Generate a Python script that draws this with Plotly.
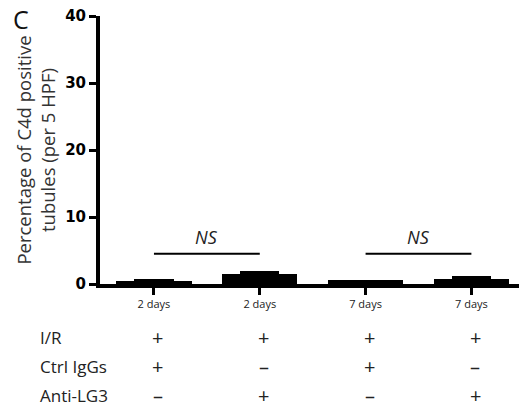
import plotly.graph_objects as go

# ---- data ----
positions = [1, 2, 3, 4]
day_labels = ["2 days", "2 days", "7 days", "7 days"]
outer_values = [0.5, 1.5, 0.6, 0.75]
inner_values = [0.75, 1.95, 0.6, 1.2]
y_ticks = [0, 10, 20, 30, 40]
row_names = ["I/R", "Ctrl IgGs", "Anti-LG3"]
row_signs = [
    ["+", "+", "+", "+"],
    ["+", "–", "+", "–"],
    ["–", "+", "–", "+"],
]
ns_pairs = [(1, 2), (3, 4)]
ns_level = 4.5

fig = go.Figure()
fig.add_trace(go.Bar(x=positions, y=outer_values, width=0.71,
                     marker=dict(color="black", line=dict(width=0)), showlegend=False))
fig.add_trace(go.Bar(x=positions, y=inner_values, width=0.37,
                     marker=dict(color="black", line=dict(width=0)), showlegend=False))

for a, b in ns_pairs:
    fig.add_shape(type="line", xref="x", yref="y", x0=positions[a - 1], x1=positions[b - 1],
                  y0=ns_level, y1=ns_level, line=dict(color="black", width=2))
    fig.add_annotation(x=(positions[a - 1] + positions[b - 1]) / 2, y=ns_level, xref="x", yref="y",
                       text="<i>NS</i>", showarrow=False, yanchor="bottom", yshift=3,
                       font=dict(family="Open Sans", size=18, color="#222"))

row_y = [337, 366, 396]
for r, name in enumerate(row_names):
    yp = (284 - row_y[r]) / 268.0
    fig.add_annotation(x=-62 / 419.0, xref="paper", y=yp, yref="paper", text=name, showarrow=False,
                       xanchor="left", yanchor="middle",
                       font=dict(family="Open Sans", size=17, color="#222"))
    for c, s in enumerate(row_signs[r]):
        fig.add_annotation(x=positions[c], xref="x", y=yp, yref="paper",
                           text=s, showarrow=False, xanchor="center", yanchor="middle",
                           xshift=4, font=dict(family="Open Sans", size=20, color="#222"))

fig.add_annotation(x=-79 / 419.0, xref="paper", y=1 + 16 / 268.0, yref="paper", text="C",
                   showarrow=False, xanchor="center", yanchor="top",
                   font=dict(family="Open Sans", size=25, color="#111"))

fig.update_layout(
    width=519, height=411,
    margin=dict(l=100, r=0, t=16, b=127),
    plot_bgcolor="white", paper_bgcolor="white",
    barmode="overlay", bargap=0,
    xaxis=dict(range=[0.49, 4.45], tickvals=positions, ticktext=day_labels,
               showline=True, linecolor="black", linewidth=4,
               ticks="outside", ticklen=7, tickwidth=3, tickcolor="black",
               tickfont=dict(family="Open Sans", size=11, color="#222"),
               showgrid=False, zeroline=False, fixedrange=True),
    yaxis=dict(range=[0, 40], tickvals=y_ticks,
               showline=True, linecolor="black", linewidth=4,
               ticks="outside", ticklen=7, tickwidth=3, tickcolor="black",
               tickfont=dict(family="DejaVu Sans", size=15, color="black", weight="bold"),
               showgrid=False, zeroline=False, fixedrange=True,
               title=dict(text="Percentage of C4d positive<br>tubules (per 5 HPF)",
                          font=dict(family="Open Sans", size=18.5, color="#333"), standoff=6)),
)

fig.write_html("out.html", config={"displayModeBar": False},
               post_script="document.body.style.margin='0';document.body.style.overflow='hidden';")
